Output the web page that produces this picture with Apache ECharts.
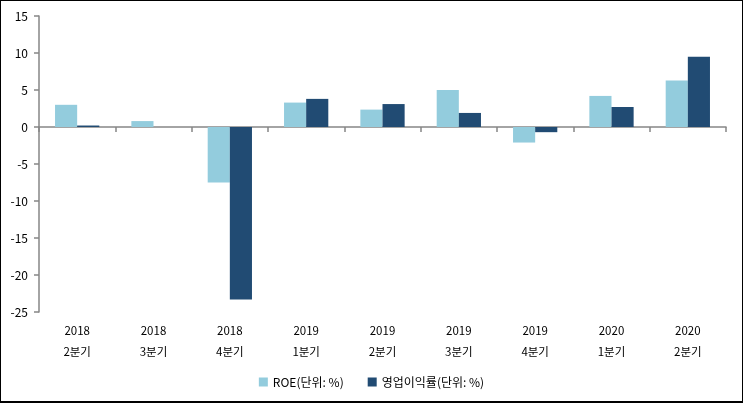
<!DOCTYPE html>
<html><head><meta charset="utf-8">
<script src="https://cdn.jsdelivr.net/npm/echarts@6/dist/echarts.min.js"></script>
<style>
html,body{margin:0;padding:0;background:#fff;}
#c{width:743px;height:403px;box-sizing:border-box;border:1px solid #000;border-bottom:2px solid #000;}
</style></head>
<body><div id="c"></div>
<script>
var categories = ['2018\n2분기','2018\n3분기','2018\n4분기','2019\n1분기','2019\n2분기','2019\n3분기','2019\n4분기','2020\n1분기','2020\n2분기'];
var roe = [3.0, 0.8, -7.5, 3.3, 2.35, 5.0, -2.1, 4.2, 6.3];
var opm = [0.2, 0, -23.3, 3.8, 3.1, 1.9, -0.7, 2.7, 9.5];
var seriesNames = ['ROE(단위: %)', '영업이익률(단위: %)'];

var chart = echarts.init(document.getElementById('c'));
var font = '"Noto Sans CJK KR", "Noto Sans", sans-serif';
chart.setOption({
  animation: false,
  textStyle: {fontFamily: font},
  grid: {left: 38, right: 16, top: 15, bottom: 89, containLabel: false},
  legend: {
    bottom: 8, left: 'center', itemWidth: 9, itemHeight: 9, itemGap: 24,
    icon: 'rect',
    textStyle: {fontSize: 12, color: '#000', fontFamily: font},
    data: seriesNames
  },
  xAxis: [{
    type: 'category', data: categories,
    axisLine: {onZero: true, lineStyle: {color: '#868686', width: 1.5}},
    axisTick: {show: true, length: 5, lineStyle: {color: '#868686', width: 1.5}},
    axisLabel: {show: false}
  }, {
    type: 'category', data: categories, position: 'bottom',
    axisLine: {show: false, onZero: false},
    axisTick: {show: false},
    axisLabel: {show: true, fontSize: 11.5, color: '#000', lineHeight: 21, margin: 8, fontFamily: font}
  }],
  yAxis: {
    type: 'value', min: -25, max: 15, interval: 5,
    axisLine: {show: true, lineStyle: {color: '#868686', width: 1.5}},
    axisTick: {show: true, length: 5, lineStyle: {color: '#868686', width: 1.5}},
    splitLine: {show: false},
    axisLabel: {fontSize: 12, color: '#000', margin: 11, fontFamily: font}
  },
  series: [{
    name: seriesNames[0], type: 'bar', data: roe, xAxisIndex: 0,
    itemStyle: {color: '#93CCDD'}, barGap: '0%', barCategoryGap: '42%'
  }, {
    name: seriesNames[1], type: 'bar', data: opm, xAxisIndex: 0,
    itemStyle: {color: '#214B73'}, barGap: '0%', barCategoryGap: '42%'
  }]
});
</script></body></html>
